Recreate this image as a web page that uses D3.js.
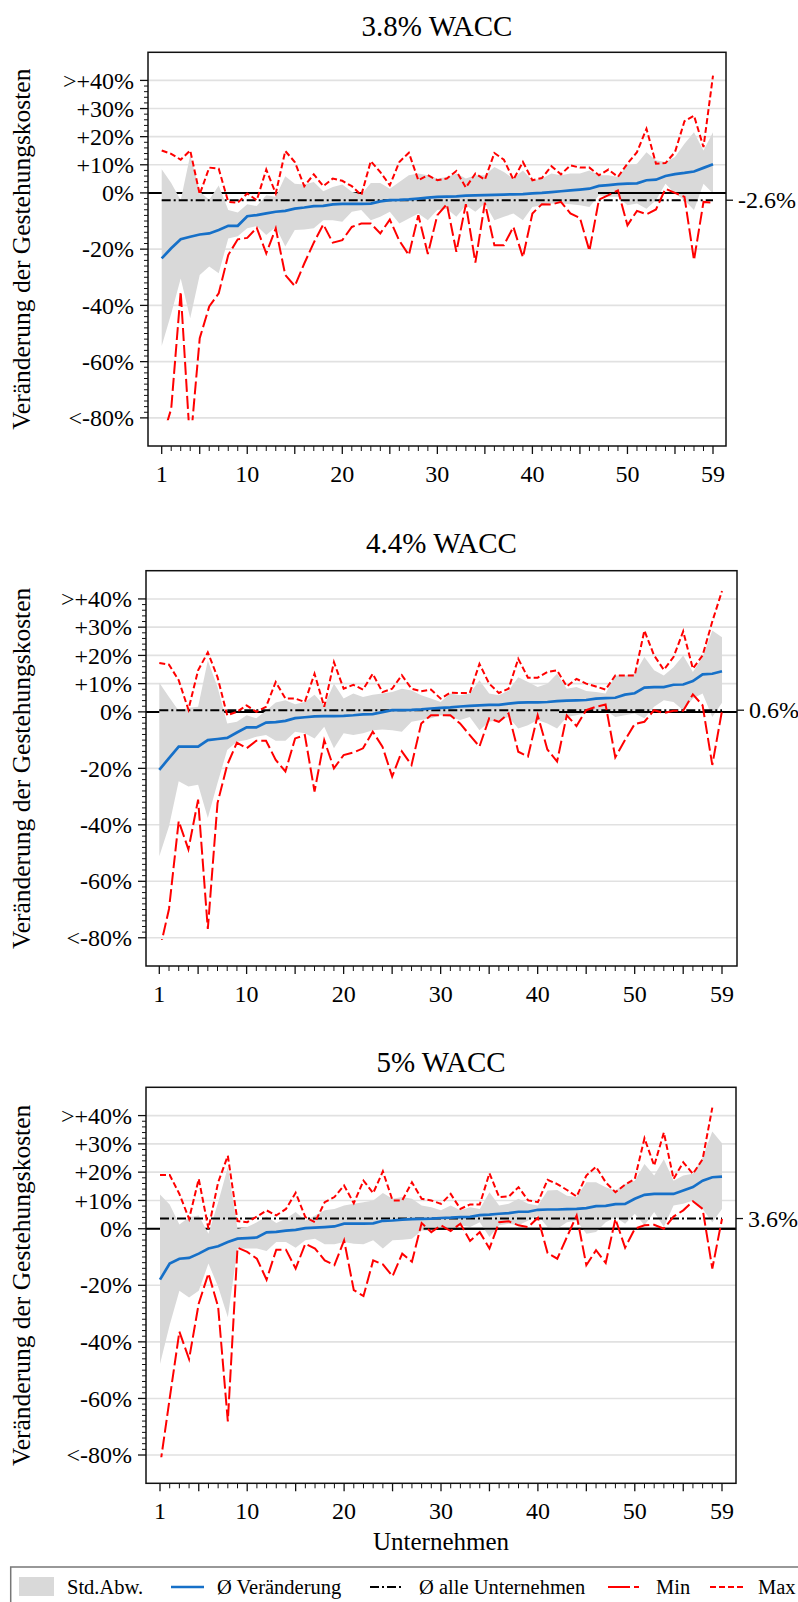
<!DOCTYPE html>
<html><head><meta charset="utf-8">
<script src="https://cdn.jsdelivr.net/npm/d3@7/dist/d3.min.js"></script>
<style>body{margin:0;background:#fff} svg{display:block}</style>
</head><body>
<svg id="c" width="798" height="1602"></svg>
<script>
// ---------------- DATA ----------------
const companies = d3.range(1, 60);
const panelTitles = ["3.8% WACC", "4.4% WACC", "5% WACC"];
const meanAll = [-2.6, 0.6, 3.6];
const meanAllLabels = ["-2.6%", "0.6%", "3.6%"];
const yTickValues = [-80, -60, -40, -20, 0, 10, 20, 30, 40];
const yTickLabels = ["<-80%", "-60%", "-40%", "-20%", "0%", "+10%", "+20%", "+30%", ">+40%"];
const xTickLabelValues = [1, 10, 20, 30, 40, 50, 59];
const xMajorTicks = [1, 5, 10, 15, 20, 25, 30, 35, 40, 45, 50, 55, 59];
const yAxisTitle = "Veränderung der Gestehungskosten";
const xAxisTitle = "Unternehmen";
const legendLabels = ["Std.Abw.", "Ø Veränderung", "Ø alle Unternehmen", "Min", "Max"];

// Panel 1: 3.8% WACC
const mean1 = [-23.3,-19.7,-16.5,-15.6,-14.8,-14.4,-13.2,-11.7,-11.7,-8.3,-7.9,-7.3,-6.7,-6.4,-5.6,-5.2,-4.7,-4.6,-4.1,-3.9,-3.9,-3.9,-3.8,-3.0,-2.6,
  -2.5,-2.3,-2.0,-1.7,-1.4,-1.3,-1.2,-1.0,-0.9,-0.8,-0.7,-0.6,-0.5,-0.4,-0.2,0.0,0.3,0.6,0.9,1.2,1.5,2.5,2.8,3.1,3.3,3.4,4.5,4.7,6.0,6.7,7.1,7.6,8.9,10.2];
const sdHigh1 = [8.4,3.5,-2.6,13.4,0.4,-2.4,2.6,-6.1,-7.0,-4.0,-4.7,-0.8,-1.4,5.9,3.3,3.0,3.9,0.6,2.1,3.0,0.4,-0.6,3.5,3.5,1.5,
  3.9,6.3,6.9,6.3,5.1,5.7,6.9,5.1,6.3,6.3,9.2,7.4,5.1,8.0,4.5,5.1,6.9,6.3,6.9,6.9,8.0,6.3,6.3,5.7,9.8,10.4,14.5,11.6,11.0,12.8,17.5,21.6,15.1,21.6];
const sdLow1 = [-54.4,-43.0,-30.4,-44.6,-29.2,-26.2,-28.6,-16.2,-15.4,-12.6,-11.8,-15.0,-12.1,-19.1,-13.2,-13.0,-12.6,-9.7,-9.7,-10.3,-6.7,-6.1,-9.7,-8.5,-6.7,
  -10.9,-9.1,-7.3,-9.7,-6.1,-5.6,-8.5,-4.4,-6.7,-3.8,-9.7,-8.5,-7.3,-9.7,-5.0,-4.4,-3.8,-3.8,-4.0,-4.4,-5.0,-0.8,-1.4,-1.4,-4.4,-3.8,-5.6,-2.6,3.3,-0.2,-2.6,-6.1,3.3,-0.2];
const max1 = [15.1,13.9,11.8,15.1,-0.5,9.0,8.6,-3.2,-3.5,-0.2,-2.6,8.3,-0.2,14.9,11.0,2.4,6.6,2.4,5.1,4.3,2.4,-0.8,11.3,7.4,2.7,
  11.0,14.3,4.5,6.3,4.5,5.1,7.8,1.9,6.9,4.7,14.2,11.8,4.7,11.0,4.5,5.3,9.5,6.6,9.8,9.0,9.0,6.3,8.3,5.7,10.4,14.5,22.8,10.4,10.6,14.5,25.5,27.5,16.3,41.7];
const min1 = [-88,-76.8,-35.1,-90,-51.7,-40.4,-35.7,-22.1,-16.5,-16.0,-12.4,-21.5,-12.6,-29.2,-33.1,-25.1,-17.7,-11.2,-17.7,-16.8,-12.1,-10.9,-10.9,-14.4,-9.5,
  -17.0,-22.1,-7.9,-21.7,-7.9,-4.0,-20.9,-4.0,-24.8,-3.5,-18.6,-18.6,-12.1,-22.9,-7.3,-4.0,-4.1,-3.2,-7.3,-8.9,-20.6,-2.4,-0.8,0.9,-11.5,-6.4,-7.6,-5.9,1.5,0.0,-1.4,-23.9,-3.2,-3.5];

// Panel 2: 4.4% WACC
const mean2 = [-20.5,-16.4,-12.3,-12.3,-12.3,-10.0,-9.6,-9.2,-7.3,-5.5,-5.5,-3.8,-3.6,-3.2,-2.2,-1.9,-1.6,-1.5,-1.5,-1.4,-1.2,-0.9,-0.8,-0.1,0.6,
  0.6,0.7,0.9,1.2,1.4,1.6,1.9,2.1,2.3,2.5,2.5,2.9,3.3,3.4,3.4,3.5,3.8,4.0,4.1,4.2,4.7,4.9,5.0,6.1,6.6,8.6,8.8,8.8,9.6,9.7,10.9,13.3,13.5,14.4];
const sdHigh2 = [10.3,5.3,0.4,1.5,1.8,18.2,8.8,-4.1,-3.5,-1.2,-2.3,0.4,3.3,4.1,2.7,3.5,6.1,2.3,10.0,4.7,6.5,5.3,6.1,6.5,7.0,
  8.2,7.6,5.9,4.7,3.5,6.5,5.9,6.5,11.2,6.5,5.9,7.6,12.3,10.6,8.8,10.0,13.5,8.2,8.8,7.4,7.0,6.5,12.9,12.9,13.5,19.4,14.7,12.9,15.8,20.0,14.1,19.4,28.8,26.4];
const sdLow2 = [-51.1,-40.5,-24.6,-26.4,-25.8,-37.6,-25.2,-13.5,-10.6,-10.0,-8.8,-8.2,-10.2,-10.2,-7.0,-7.6,-9.4,-5.3,-12.9,-7.6,-8.2,-7.6,-6.5,-6.2,-6.5,
  -7.0,-3.5,-2.9,-2.3,-1.2,-1.8,-2.9,-1.8,-6.5,-3.5,-2.9,-1.8,-5.9,-4.7,-2.9,-4.1,-5.9,-1.8,-1.2,-0.4,0.0,0.6,-1.8,-1.2,-0.6,-2.3,1.8,4.1,3.5,0.6,4.7,6.5,-1.8,3.2];
const max2 = [17.3,16.7,11.2,0.8,14.7,21.1,12.3,-1.2,0.0,2.3,0.0,1.8,10.6,4.7,4.7,3.5,13.5,1.8,17.6,8.2,9.6,7.9,13.5,7.0,8.2,
  13.0,8.2,7.3,7.9,4.7,6.8,6.7,6.7,17.0,10.0,6.7,8.2,18.8,12.1,12.1,14.1,14.7,9.0,11.7,10.0,9.0,7.9,12.9,12.9,12.9,28.8,20.0,14.9,19.4,28.5,15.3,20.0,32.0,42.8];
const min2 = [-85,-69.8,-38.7,-48.7,-31.1,-76.9,-32.3,-18.8,-10.9,-12.9,-10.2,-10.2,-17.0,-21.1,-9.4,-8.2,-28.2,-10.0,-20.0,-15.3,-14.4,-12.9,-7.0,-12.3,-22.9,
  -14.0,-18.8,-4.1,-1.2,-1.2,-1.2,-4.1,-8.2,-12.3,-2.3,-3.5,-0.6,-14.1,-15.8,-1.2,-13.3,-17.6,-1.2,-5.0,0.6,1.8,2.6,-16.1,-10.0,-4.3,-3.5,0.6,-0.4,0.4,0.4,6.2,2.3,-18.8,0.4];

// Panel 3: 5% WACC
const mean3 = [-18.0,-12.3,-10.6,-10.3,-8.8,-7.0,-6.2,-4.7,-3.5,-3.3,-3.1,-1.3,-1.1,-0.7,-0.4,0.2,0.4,0.6,0.8,1.8,1.8,1.8,1.9,2.8,2.9,
  3.2,3.4,3.5,3.6,3.8,3.9,4.1,4.2,4.8,5.0,5.3,5.5,6.0,6.0,6.7,6.8,6.8,6.9,7.0,7.3,8.0,8.1,8.7,8.8,10.6,12.0,12.3,12.3,12.3,13.5,14.7,17.0,18.2,18.4];
const sdHigh3 = [12.1,8.6,1.5,4.1,4.7,-1.8,9.4,21.7,0.0,0.6,2.3,4.3,2.0,3.5,5.9,2.9,4.7,6.5,7.0,8.2,8.8,9.4,10.0,12.6,10.6,
  11.2,10.6,8.2,7.6,6.5,8.2,6.5,7.6,7.0,12.9,8.2,8.8,10.6,8.8,8.2,13.5,13.7,11.7,11.2,16.4,16.4,14.7,13.5,15.8,17.0,22.9,18.8,24.6,17.0,18.8,19.4,25.2,34.4,30.2];
const sdLow3 = [-47.8,-34.0,-21.9,-24.3,-21.9,-12.3,-20.5,-31.3,-7.0,-7.0,-7.0,-7.9,-4.7,-4.7,-6.7,-4.1,-3.5,-5.5,-5.5,-4.7,-5.3,-5.5,-4.1,-7.0,-4.1,
  -3.9,-3.5,-0.6,-0.6,0.6,0.0,1.2,0.6,2.3,-2.9,1.2,1.8,1.2,2.9,4.7,0.6,0.0,2.3,2.9,-1.8,-1.2,2.3,4.1,1.8,5.3,1.2,5.9,0.6,8.2,8.8,10.0,7.0,2.3,7.0];
const max3 = [19.0,19.0,12.3,3.5,17.6,0.0,16.4,25.8,2.7,2.3,4.3,6.5,4.7,7.0,12.7,4.1,2.3,9.4,11.2,15.3,9.0,17.0,12.6,20.3,10.0,
  10.0,16.4,10.6,10.0,8.8,12.3,7.0,8.6,8.6,19.6,11.2,11.4,14.7,10.0,9.4,17.3,15.8,13.7,11.4,18.8,21.9,16.4,12.9,15.6,17.6,32.0,22.3,34.0,17.6,23.5,19.4,24.6,42.8,null];
const min3 = [-84,-60.0,-36.4,-46.1,-26.4,-15.8,-27.6,-68.1,-6.7,-8.2,-10.6,-18.0,-7.4,-7.4,-14.1,-5.3,-7.0,-11.2,-12.9,-4.1,-21.7,-23.8,-11.2,-12.6,-16.8,
  -8.8,-11.7,2.0,-1.2,1.2,-0.8,1.8,-4.3,-1.2,-7.0,2.3,2.6,1.2,0.6,3.9,-8.6,-10.6,-2.9,4.7,-12.9,-7.6,-12.1,3.5,-6.7,0.0,1.2,1.4,0.0,4.3,6.5,9.7,7.0,-14.1,3.5];

const panelData = [
  {mean: mean1, lo: sdLow1, hi: sdHigh1, min: min1, max: max1},
  {mean: mean2, lo: sdLow2, hi: sdHigh2, min: min2, max: max2},
  {mean: mean3, lo: sdLow3, hi: sdHigh3, min: min3, max: max3}
];

// ---------------- LAYOUT / STYLE ----------------
const layout = [
  {left:148, right:726, top:52.3, bottom:446, x0:161.7, x1:713, titleY:36, zeroFrom:46.9},
  {left:146, right:737, top:570.7, bottom:966, x0:159.3, x1:722, titleY:553, zeroFrom:42.2},
  {left:146, right:736, top:1087.3, bottom:1483.3, x0:160, x1:722, titleY:1072, zeroFrom:28.2}
];
const FONT = "'Liberation Serif','Times New Roman',Times,serif";
const C = {gray:"#d9d9d9", grid:"#e1e1e1", blue:"#1670c8", red:"#ff0000", black:"#000"};
const DASH = {min:"13,4", max:"6,3", avg:"9,3,2,3"};

const svg = d3.select("#c");
svg.append("rect").attr("width",798).attr("height",1602).attr("fill","#fff");

layout.forEach((L, p) => {
  const D = panelData[p];
  const g = svg.append("g");
  const x = d3.scaleLinear().domain([1, 59]).range([L.x0, L.x1]);
  const y = d3.scaleLinear().domain([-90, 50]).range([L.bottom, L.top]);

  const cid = "clip" + p;
  svg.append("clipPath").attr("id", cid).append("rect")
    .attr("x", L.left).attr("y", L.top)
    .attr("width", L.right - L.left).attr("height", y(-80.8) - L.top);

  g.selectAll(".grid").data(yTickValues).join("line")
    .attr("x1", L.left).attr("x2", L.right)
    .attr("y1", d => y(d)).attr("y2", d => y(d))
    .attr("stroke", C.grid).attr("stroke-width", 1.6);

  g.append("line").attr("x1", L.left).attr("x2", L.right)
    .attr("y1", y(0)).attr("y2", y(0)).attr("stroke", C.black).attr("stroke-width", 2);

  const area = d3.area().x((d, i) => x(companies[i])).y0((d, i) => y(D.lo[i])).y1((d, i) => y(D.hi[i]));
  g.append("path").datum(D.mean).attr("d", area).attr("fill", C.gray);

  g.append("line").attr("x1", x(L.zeroFrom)).attr("x2", L.right)
    .attr("y1", y(0)).attr("y2", y(0)).attr("stroke", C.black).attr("stroke-width", 2);

  g.append("line").attr("x1", x(1)).attr("x2", x(59))
    .attr("y1", y(meanAll[p])).attr("y2", y(meanAll[p]))
    .attr("stroke", C.black).attr("stroke-width", 2).attr("stroke-dasharray", DASH.avg);

  const line = arr => d3.line().defined((d, i) => arr[i] != null)
    .x((d, i) => x(companies[i])).y((d, i) => y(arr[i]))(arr);

  g.append("path").attr("d", line(D.mean)).attr("fill", "none")
    .attr("stroke", C.blue).attr("stroke-width", 2.7);
  g.append("path").attr("d", line(D.min)).attr("fill", "none").attr("clip-path", `url(#${cid})`)
    .attr("stroke", C.red).attr("stroke-width", 2).attr("stroke-dasharray", DASH.min);
  g.append("path").attr("d", line(D.max)).attr("fill", "none").attr("clip-path", `url(#${cid})`)
    .attr("stroke", C.red).attr("stroke-width", 2).attr("stroke-dasharray", DASH.max);

  g.append("rect").attr("x", L.left).attr("y", L.top)
    .attr("width", L.right - L.left).attr("height", L.bottom - L.top)
    .attr("fill", "none").attr("stroke", "#111").attr("stroke-width", 1.5);

  const minorY = d3.range(-80, 41, 2).filter(v => !yTickValues.includes(v));
  g.selectAll(".ymin").data(minorY).join("line")
    .attr("x1", L.left - 4).attr("x2", L.left).attr("y1", d => y(d)).attr("y2", d => y(d))
    .attr("stroke", "#111").attr("stroke-width", 1);
  g.selectAll(".ymaj").data(yTickValues).join("line")
    .attr("x1", L.left - 8).attr("x2", L.left).attr("y1", d => y(d)).attr("y2", d => y(d))
    .attr("stroke", "#111").attr("stroke-width", 1.3);
  g.selectAll(".ylab").data(yTickValues).join("text")
    .attr("x", L.left - 14).attr("y", d => y(d)).attr("dy", "0.34em")
    .attr("text-anchor", "end").attr("font-family", FONT).attr("font-size", 24)
    .text((d, i) => yTickLabels[i]);

  g.selectAll(".xmin").data(companies.filter(c => !xMajorTicks.includes(c))).join("line")
    .attr("x1", d => x(d)).attr("x2", d => x(d)).attr("y1", L.bottom).attr("y2", L.bottom + 5)
    .attr("stroke", "#111").attr("stroke-width", 1);
  g.selectAll(".xmaj").data(xMajorTicks).join("line")
    .attr("x1", d => x(d)).attr("x2", d => x(d)).attr("y1", L.bottom).attr("y2", L.bottom + 8)
    .attr("stroke", "#111").attr("stroke-width", 1.3);
  g.selectAll(".xlab").data(xTickLabelValues).join("text")
    .attr("x", d => x(d)).attr("y", L.bottom + 36)
    .attr("text-anchor", "middle").attr("font-family", FONT).attr("font-size", 24)
    .text(d => d);

  g.append("line").attr("x1", L.right).attr("x2", L.right + 7)
    .attr("y1", y(meanAll[p])).attr("y2", y(meanAll[p])).attr("stroke", "#111").attr("stroke-width", 1.3);
  g.append("text").attr("x", L.right + 12).attr("y", y(meanAll[p])).attr("dy", "0.34em")
    .attr("font-family", FONT).attr("font-size", 24).text(meanAllLabels[p]);

  g.append("text").attr("x", (L.left + L.right) / 2).attr("y", L.titleY)
    .attr("text-anchor", "middle").attr("font-family", FONT).attr("font-size", 29)
    .text(panelTitles[p]);

  g.append("text").attr("transform", `translate(30,${(L.top + L.bottom) / 2}) rotate(-90)`)
    .attr("text-anchor", "middle").attr("font-family", FONT).attr("font-size", 25.5)
    .text(yAxisTitle);

  if (p === 2) {
    g.append("text").attr("x", (L.left + L.right) / 2).attr("y", L.bottom + 67)
      .attr("text-anchor", "middle").attr("font-family", FONT).attr("font-size", 25)
      .text(xAxisTitle);
  }
});

// ---------------- LEGEND ----------------
const lg = svg.append("g");
lg.append("rect").attr("x", 10.7).attr("y", 1567).attr("width", 800).attr("height", 60)
  .attr("fill", "#fff").attr("stroke", "#777").attr("stroke-width", 1.5);
const legY = 1587;
lg.append("rect").attr("x", 19).attr("y", 1577).attr("width", 35).attr("height", 19).attr("fill", C.gray);
const legendItems = [
  {x1:171, x2:204, color:C.blue, w:2.7, dash:null, tx:217},
  {x1:370, x2:404, color:C.black, w:2, dash:DASH.avg, tx:419},
  {x1:608, x2:642, color:C.red, w:2, dash:"22,4,5,4", tx:656},
  {x1:710, x2:744, color:C.red, w:2, dash:DASH.max, tx:758}
];
lg.append("text").attr("x", 67).attr("y", legY).attr("dy", "0.34em")
  .attr("font-family", FONT).attr("font-size", 20.5).text(legendLabels[0]);
legendItems.forEach((it, i) => {
  lg.append("line").attr("x1", it.x1).attr("x2", it.x2).attr("y1", legY).attr("y2", legY)
    .attr("stroke", it.color).attr("stroke-width", it.w).attr("stroke-dasharray", it.dash);
  lg.append("text").attr("x", it.tx).attr("y", legY).attr("dy", "0.34em")
    .attr("font-family", FONT).attr("font-size", 20.5).text(legendLabels[i + 1]);
});
</script>
</body></html>
